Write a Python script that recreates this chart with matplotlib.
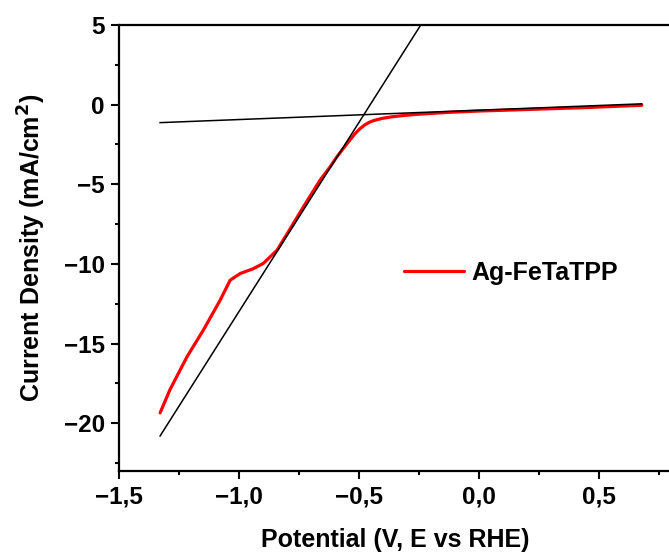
import matplotlib
matplotlib.use("Agg")
import matplotlib.pyplot as plt
from matplotlib.ticker import MultipleLocator, FuncFormatter

plt.rcParams['font.family'] = ['Liberation Sans', 'DejaVu Sans']
plt.rcParams['font.weight'] = 'bold'

# LSV curve (Ag-FeTaTPP)
potential = [-1.330, -1.289, -1.218, -1.150, -1.080, -1.038, -0.996, -0.942,
             -0.900, -0.872, -0.843, -0.800, -0.733, -0.664, -0.622, -0.594,
             -0.560, -0.539, -0.520, -0.500, -0.480, -0.460, -0.440, -0.420,
             -0.400, -0.358, -0.300, -0.261, -0.200, -0.122, 0.000, 0.087,
             0.250, 0.450, 0.677]
current = [-19.35, -17.90, -15.83, -14.16, -12.28, -11.02, -10.60, -10.30,
           -9.97, -9.56, -9.14, -8.09, -6.42, -4.75, -3.91, -3.29,
           -2.62, -2.22, -1.86, -1.55, -1.30, -1.12, -1.00, -0.92,
           -0.85, -0.75, -0.66, -0.61, -0.55, -0.48, -0.40, -0.36,
           -0.28, -0.18, -0.04]

# tangent lines (onset potential construction)
baseline_x = [-1.33, 0.677]
baseline_y = [-1.13, 0.05]
slope_x = [-1.33, -0.244]
slope_y = [-20.8, 5.0]

series_label = "Ag-FeTaTPP"
x_label = "Potential (V, E vs RHE)"
y_label = "Current Density (mA/cm$^{\\mathbf{2}}$)"

fig = plt.figure(figsize=(6.69, 5.54), dpi=100)
ax = fig.add_axes([0.1783, 0.1498, 0.8252, 0.8051])

ax.plot(potential, current, color='#ff0000', lw=2.3, label=series_label,
        solid_capstyle='round', solid_joinstyle='round', zorder=2)
ax.plot(baseline_x, baseline_y, color='black', lw=1.1, zorder=3)
ax.plot(slope_x, slope_y, color='black', lw=1.1, zorder=3)

ax.set_xlim(-1.5, 0.8)
ax.set_ylim(-23, 5)

ax.xaxis.set_major_locator(MultipleLocator(0.5))
ax.xaxis.set_minor_locator(MultipleLocator(0.25))
ax.yaxis.set_major_locator(MultipleLocator(5))
ax.yaxis.set_minor_locator(MultipleLocator(2.5))

def fmt_x(v, pos):
    s = f"{abs(v):.1f}".replace('.', ',')
    return ("\u2212" + s) if v < -1e-9 else s

def fmt_y(v, pos):
    s = f"{abs(v):.0f}"
    return ("\u2212" + s) if v < -1e-9 else s

ax.xaxis.set_major_formatter(FuncFormatter(fmt_x))
ax.yaxis.set_major_formatter(FuncFormatter(fmt_y))

for sp in ax.spines.values():
    sp.set_linewidth(1.6)

ax.tick_params(which='major', direction='out', length=5.5, width=1.5,
               labelsize=17.5, pad=5)
ax.tick_params(which='minor', direction='out', length=3, width=1.5)

for lab in ax.get_xticklabels() + ax.get_yticklabels():
    lab.set_fontweight('bold')

ax.set_xlabel(x_label, fontsize=18, fontweight='bold', labelpad=14)
ax.set_ylabel(y_label, fontsize=18, fontweight='bold', labelpad=11)

ax.legend(loc='center left', bbox_to_anchor=(0.515, 0.444), frameon=False,
          borderpad=0, borderaxespad=0, handlelength=2.4, handletextpad=0.3,
          prop={'weight': 'bold', 'size': 18})

fig.savefig("out.png", dpi=100)
